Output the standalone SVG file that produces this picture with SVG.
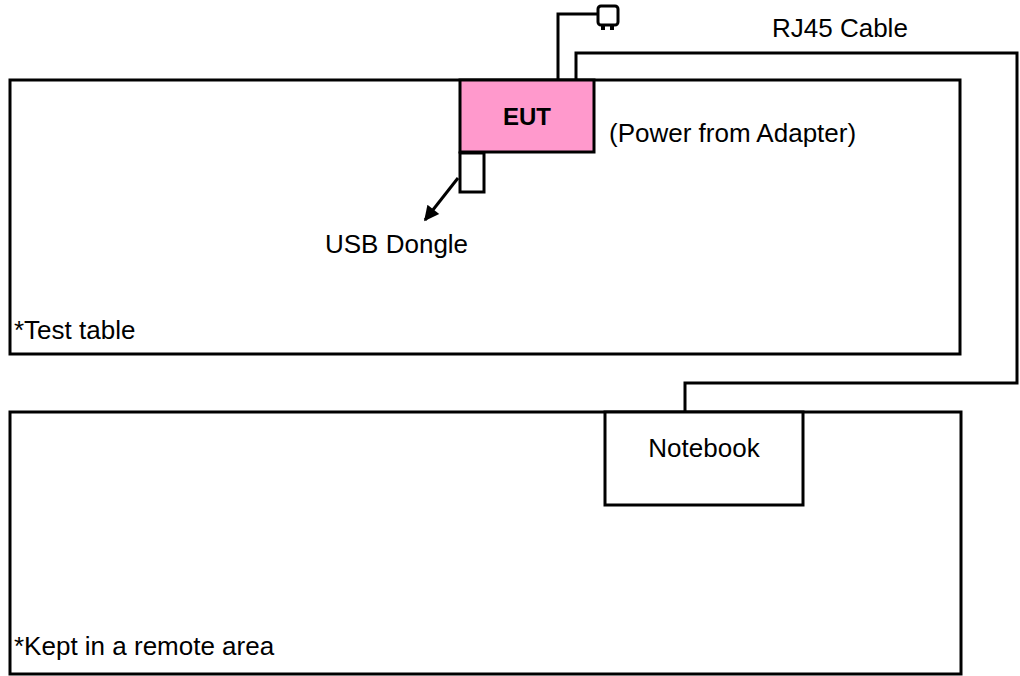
<svg xmlns="http://www.w3.org/2000/svg" width="1020" height="676" viewBox="0 0 1020 676">
<style>
.box{fill:#fff;stroke:#000;stroke-width:3}
.ln{fill:none;stroke:#000;stroke-width:3}
text{font-family:"Liberation Sans",Arial,sans-serif;font-size:26px;fill:#000}
</style>
<defs>
<marker id="ah" viewBox="0 0 10 10" refX="9" refY="5" markerWidth="5.5" markerHeight="5" orient="auto" markerUnits="strokeWidth">
<path d="M0,0 L10,5 L0,10 Z" fill="#000"/>
</marker>
</defs>
<rect width="1020" height="676" fill="#fff"/>
<g id="test-table">
<rect class="box" x="10" y="80" width="950" height="274"/>
<text x="14" y="339">*Test table</text>
</g>
<g id="remote-area">
<rect class="box" x="10" y="412" width="951" height="262"/>
<text x="14" y="655">*Kept in a remote area</text>
</g>
<g id="connectors">
<path class="ln" d="M558,80 V14 H598"/>
<path class="ln" d="M576,80 V53 H1017 V383 H685 V412"/>
<path class="ln" d="M458,178 L425,220" marker-end="url(#ah)"/>
</g>
<g id="plug">
<rect class="ln" x="598" y="6" width="20" height="19" rx="3"/>
<rect x="601" y="24" width="4" height="6" fill="#000"/>
<rect x="610" y="24" width="4" height="6" fill="#000"/>
</g>
<g id="usb-dongle">
<rect class="box" x="460" y="153" width="24" height="39"/>
<text x="325" y="253">USB Dongle</text>
</g>
<g id="eut">
<rect x="460" y="80" width="134" height="72" fill="#FF99CC" stroke="#000" stroke-width="3"/>
<text x="527" y="125" text-anchor="middle" font-weight="bold" style="font-size:24px">EUT</text>
</g>
<text x="609" y="142">(Power from Adapter)</text>
<text x="772" y="37">RJ45 Cable</text>
<g id="notebook">
<rect class="box" x="605" y="412" width="198" height="93"/>
<text x="704" y="457" text-anchor="middle">Notebook</text>
</g>
</svg>
